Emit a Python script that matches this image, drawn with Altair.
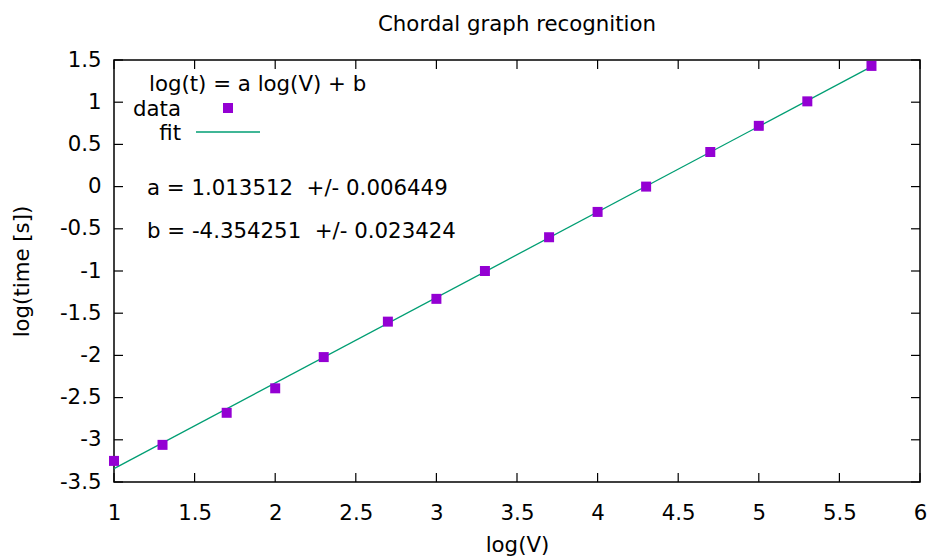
import altair as alt
import pandas as pd

# data (x = log10 V, y = log10 time)
log_v = [1.0, 1.301, 1.699, 2.0, 2.301, 2.699, 3.0, 3.301, 3.699, 4.0, 4.301, 4.699, 5.0, 5.301, 5.699]
log_t = [-3.25, -3.06, -2.68, -2.39, -2.02, -1.60, -1.33, -1.00, -0.60, -0.30, 0.00, 0.41, 0.72, 1.01, 1.43]

# fit line endpoints
fit_x = [1.0, 5.699]
fit_y = [-3.3407, 1.4218]

x_ticks = [1, 1.5, 2, 2.5, 3, 3.5, 4, 4.5, 5, 5.5, 6]
y_ticks = [-3.5, -3, -2.5, -2, -1.5, -1, -0.5, 0, 0.5, 1, 1.5]

title_text = "Chordal graph recognition"
x_title = "log(V)"
y_title = "log(time [s])"
legend_title = "log(t) = a log(V) + b"
legend_labels = ["data", "fit"]
param_lines = ["a = 1.013512 \u00a0+/- 0.006449", "b = -4.354251 \u00a0+/- 0.023424"]

FONT = "DejaVu Sans"
FS = 21.3
W, H = 806, 422
PURPLE = "#9400D3"
GREEN = "#009E73"
TL = 9

df = pd.DataFrame({"x": log_v, "y": log_t})
fit_df = pd.DataFrame({"x": fit_x, "y": fit_y})
xt = pd.DataFrame({"v": x_ticks})
yt = pd.DataFrame({"v": y_ticks})

xscale = alt.Scale(domain=[1, 6], nice=False, zero=False)
yscale = alt.Scale(domain=[-3.5, 1.5], nice=False, zero=False)

xaxis = alt.Axis(values=x_ticks, labelExpr="toString(datum.value)", ticks=False, tickSize=0,
                 domain=False, grid=False, labelPadding=20, labelFlush=False, labelFontSize=FS,
                 labelFont=FONT, labelColor="black", title=x_title, titleFont=FONT,
                 titleFontSize=FS, titleFontWeight="normal", titleColor="black", titlePadding=11)
yaxis = alt.Axis(values=y_ticks, labelExpr="toString(datum.value)", ticks=False, tickSize=0,
                 domain=False, grid=False, labelPadding=13, labelFlush=False, labelFontSize=FS,
                 labelFont=FONT, labelColor="black", title=y_title, titleFont=FONT,
                 titleFontSize=FS, titleFontWeight="normal", titleColor="black", titlePadding=27)

fit = alt.Chart(fit_df).mark_line(color=GREEN, strokeWidth=1.3).encode(
    x=alt.X("x:Q", scale=xscale, axis=xaxis),
    y=alt.Y("y:Q", scale=yscale, axis=yaxis),
)

pts = alt.Chart(df).mark_square(color=PURPLE, size=100, opacity=1).encode(
    x=alt.X("x:Q", scale=xscale),
    y=alt.Y("y:Q", scale=yscale),
)

tick_style = dict(color="black", strokeWidth=1.2)
bt = alt.Chart(xt).mark_rule(**tick_style).encode(x=alt.X("v:Q", scale=xscale), y=alt.value(H), y2=alt.value(H - TL))
tt = alt.Chart(xt).mark_rule(**tick_style).encode(x=alt.X("v:Q", scale=xscale), y=alt.value(0), y2=alt.value(TL))
lt = alt.Chart(yt).mark_rule(**tick_style).encode(y=alt.Y("v:Q", scale=yscale), x=alt.value(0), x2=alt.value(TL))
rt = alt.Chart(yt).mark_rule(**tick_style).encode(y=alt.Y("v:Q", scale=yscale), x=alt.value(W), x2=alt.value(W - TL))

txt = dict(font=FONT, fontSize=FS, color="black", baseline="middle")
title_mark = alt.Chart(pd.DataFrame({"t": [title_text]})).mark_text(align="center", **txt).encode(
    text="t:N", x=alt.value(W / 2), y=alt.value(-35))
leg_title = alt.Chart(pd.DataFrame({"t": [legend_title]})).mark_text(align="left", **txt).encode(
    text="t:N", x=alt.value(35), y=alt.value(25))
leg_data = alt.Chart(pd.DataFrame({"t": [legend_labels[0]]})).mark_text(align="right", **txt).encode(
    text="t:N", x=alt.value(67), y=alt.value(50))
leg_fit = alt.Chart(pd.DataFrame({"t": [legend_labels[1]]})).mark_text(align="right", **txt).encode(
    text="t:N", x=alt.value(67), y=alt.value(74))
leg_sq = alt.Chart(pd.DataFrame({"t": [0]})).mark_square(color=PURPLE, size=100, opacity=1).encode(
    x=alt.value(114), y=alt.value(48))
leg_line = alt.Chart(pd.DataFrame({"t": [0]})).mark_rule(color=GREEN, strokeWidth=1.3).encode(
    x=alt.value(82), x2=alt.value(146), y=alt.value(72))
par_a = alt.Chart(pd.DataFrame({"t": [param_lines[0]]})).mark_text(align="left", **txt).encode(
    text="t:N", x=alt.value(33), y=alt.value(129))
par_b = alt.Chart(pd.DataFrame({"t": [param_lines[1]]})).mark_text(align="left", **txt).encode(
    text="t:N", x=alt.value(33), y=alt.value(172))

chart = alt.layer(fit, pts, bt, tt, lt, rt, title_mark, leg_title, leg_data, leg_fit,
                  leg_sq, leg_line, par_a, par_b).properties(
    width=W, height=H,
    autosize=alt.AutoSizeParams(type="none"),
    padding={"left": 114, "top": 60, "right": 12, "bottom": 75},
    background="white",
).configure_view(stroke="black", strokeWidth=1.5)

chart.save("out.html", embed_options={"renderer": "svg", "actions": False})
